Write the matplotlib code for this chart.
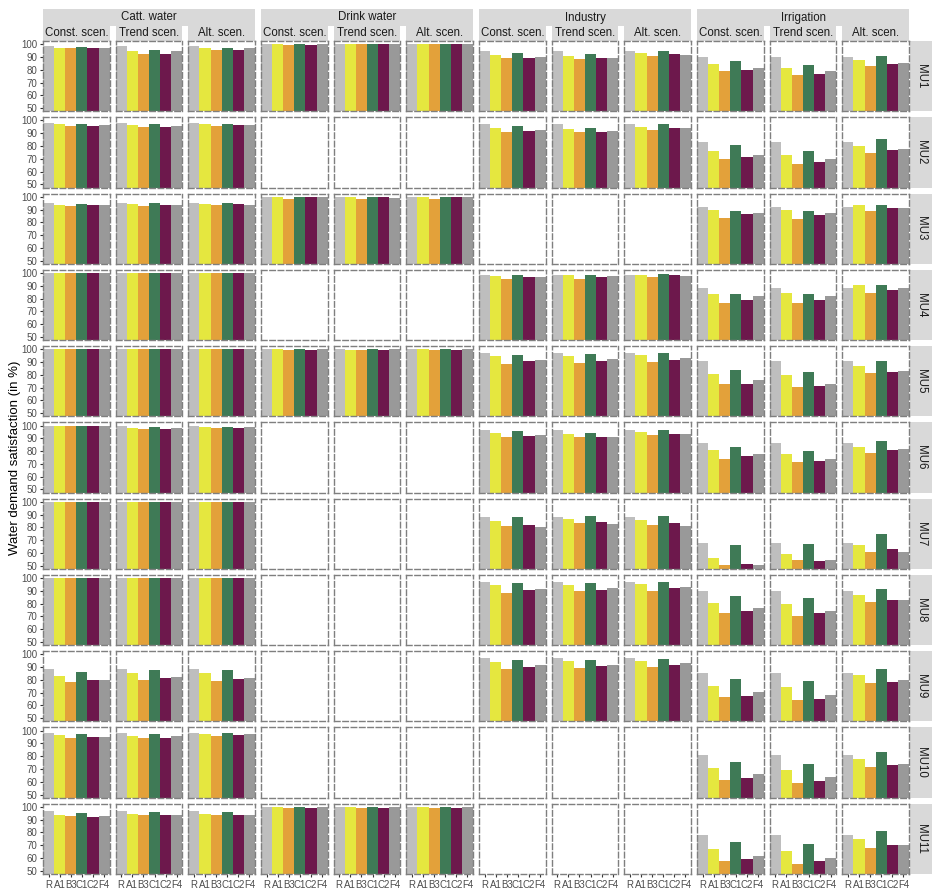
import numpy as np
import matplotlib.pyplot as plt
from matplotlib.patches import Rectangle

plt.rcParams['font.family'] = ['Liberation Sans', 'DejaVu Sans']

# categories
bars = ['R', 'A1', 'B3', 'C1', 'C2', 'F4']
bar_colors = ['#BEBEBE', '#E5E73F', '#E3A13A', '#3F7A56', '#6D184C', '#999999']
groups = ['Catt. water', 'Drink water', 'Industry', 'Irrigation']
scens = ['Const. scen.', 'Trend scen.', 'Alt. scen.']
units = ['MU%d' % i for i in range(1, 12)]
full = [100, 100, 100, 100, 100, 100]

# values (in %), one row per MU, None = no demand
catt_const = [[98.4, 96.9, 96.9, 97.6, 96.9, 96.9], [98.4, 97.6, 96.0, 97.6, 96.0, 96.8],
              [95.3, 93.8, 93.0, 94.6, 93.8, 93.8], full, full,
              [100, 99.3, 99.3, 99.3, 99.3, 100], full, full,
              [88.3, 82.8, 78.1, 85.9, 79.7, 79.7], [98.4, 96.8, 94.4, 97.6, 95.2, 95.2],
              [96.9, 93.8, 93.0, 95.3, 92.2, 93.0]]
catt_trend = [[98.4, 94.5, 92.2, 95.3, 92.2, 94.5], [98.4, 96.8, 95.2, 97.6, 95.2, 96.0],
              [95.3, 94.6, 93.0, 95.3, 93.8, 93.8], full, full,
              [100, 98.4, 97.6, 99.2, 97.6, 98.4], full, full,
              [88.3, 85.2, 79.7, 87.5, 81.3, 82.0], [98.4, 96.0, 94.4, 97.6, 94.4, 96.0],
              [96.9, 94.6, 93.8, 96.1, 93.8, 93.8]]
catt_alt = [[98.4, 96.9, 95.3, 96.9, 95.3, 96.9], [98.4, 97.6, 96.0, 97.6, 96.8, 96.8],
            [95.3, 94.6, 93.8, 95.3, 94.6, 93.8], full, full,
            [100, 99.2, 98.4, 99.2, 98.4, 99.2], full, full,
            [88.3, 85.2, 78.9, 87.5, 80.5, 81.3], [98.4, 97.6, 96.0, 98.4, 96.8, 97.6],
            [96.9, 94.6, 93.8, 96.1, 93.8, 93.8]]

drink_const = [[100, 100, 99.2, 100, 99.2, 100], None, [100, 100, 98.4, 100, 100, 100], None,
               [100, 100, 99.2, 100, 99.2, 100], None, None, None, None, None,
               [100, 100, 99.2, 100, 99.2, 100]]
drink_trend = [full, None, [100, 100, 98.4, 100, 100, 99.2], None,
               [100, 99.2, 99.2, 100, 99.2, 100], None, None, None, None, None,
               [100, 100, 99.2, 100, 99.2, 100]]
drink_alt = [full, None, [100, 100, 98.4, 100, 100, 100], None,
             [100, 100, 99.2, 100, 99.2, 100], None, None, None, None, None,
             [100, 100, 99.2, 100, 99.2, 100]]

ind_const = [[94.5, 91.4, 89.0, 93.0, 89.0, 89.8], [97.6, 94.4, 91.3, 96.0, 92.0, 92.9], None,
             [98.4, 97.6, 95.3, 98.4, 96.8, 96.8], [96.9, 94.5, 88.3, 95.3, 90.6, 91.4],
             [96.5, 94.2, 91.0, 95.7, 91.8, 92.6], [88.3, 85.2, 81.3, 88.3, 82.1, 80.6],
             [96.8, 94.5, 88.2, 96.0, 90.5, 91.3], [96.9, 93.8, 88.3, 95.3, 89.8, 91.4],
             None, None]
ind_trend = [[94.5, 90.6, 88.3, 92.2, 89.0, 89.0], [97.6, 93.7, 91.3, 94.4, 91.3, 92.0], None,
             [98.4, 98.4, 95.3, 98.4, 96.8, 97.6], [96.9, 94.5, 89.1, 96.1, 90.6, 92.2],
             [96.5, 93.3, 91.0, 94.2, 91.0, 91.0], [88.3, 86.8, 83.7, 89.1, 84.5, 82.9],
             [96.8, 94.5, 89.7, 96.0, 90.5, 92.1], [96.9, 94.5, 89.1, 95.3, 90.6, 91.4],
             None, None]
ind_alt = [[94.5, 93.0, 90.6, 94.5, 92.2, 91.4], [97.6, 95.2, 92.9, 97.6, 94.4, 94.4], None,
           [98.4, 98.4, 96.8, 99.2, 98.4, 97.6], [96.9, 95.3, 89.8, 96.9, 91.4, 93.0],
           [96.5, 95.0, 92.6, 96.5, 93.3, 93.3], [88.3, 86.0, 82.1, 89.1, 83.7, 81.3],
           [96.8, 95.3, 89.7, 96.8, 92.1, 92.9], [96.9, 94.5, 89.8, 96.1, 91.4, 93.0],
           None, None]

irr_const = [[89.8, 84.3, 78.9, 86.7, 79.6, 81.2], [83.3, 76.2, 69.8, 81.0, 71.4, 73.0],
             [92.2, 89.9, 83.7, 89.1, 86.8, 87.6], [88.2, 83.4, 76.3, 83.4, 78.7, 81.8],
             [90.6, 80.5, 72.7, 83.6, 72.7, 75.8], [86.1, 80.5, 74.2, 83.6, 75.8, 77.4],
             [67.8, 56.2, 50.8, 66.3, 51.6, 50.8], [89.7, 80.3, 72.4, 85.8, 73.9, 76.3],
             [85.2, 75.0, 66.4, 80.5, 67.2, 70.3], [81.0, 70.6, 61.1, 75.4, 62.7, 65.9],
             [78.2, 67.4, 58.0, 72.8, 59.6, 61.9]]
irr_trend = [[89.8, 81.2, 75.7, 83.6, 76.5, 78.9], [83.3, 73.0, 65.9, 76.2, 67.5, 69.8],
             [92.2, 89.9, 82.9, 89.1, 86.0, 87.6], [88.2, 84.2, 76.3, 83.4, 78.7, 81.8],
             [90.6, 79.7, 70.3, 82.0, 71.1, 72.7], [86.1, 77.4, 71.1, 79.7, 72.6, 74.2],
             [67.8, 59.3, 54.7, 67.0, 53.9, 54.7], [89.7, 79.5, 70.0, 84.2, 72.4, 73.9],
             [85.2, 74.2, 64.1, 78.9, 64.8, 68.0], [81.0, 69.0, 58.7, 73.8, 60.3, 63.5],
             [78.2, 65.8, 55.7, 71.2, 58.0, 60.4]]
irr_alt = [[89.8, 87.5, 82.8, 90.6, 84.3, 85.1], [83.3, 80.2, 74.6, 85.7, 77.0, 77.8],
           [92.2, 93.8, 89.1, 93.8, 91.5, 91.5], [88.2, 90.5, 84.2, 90.5, 86.6, 88.2],
           [90.6, 86.7, 81.3, 90.6, 82.0, 82.8], [86.1, 83.6, 78.9, 87.6, 80.5, 81.3],
           [67.8, 66.3, 60.9, 74.8, 63.2, 60.9], [89.7, 86.6, 81.0, 91.3, 82.6, 82.6],
           [85.2, 83.6, 77.3, 88.3, 78.1, 79.7], [81.0, 77.8, 71.4, 83.3, 73.0, 73.8],
           [78.2, 75.1, 68.1, 81.3, 70.5, 70.5]]

columns = [catt_const, catt_trend, catt_alt, drink_const, drink_trend, drink_alt,
           ind_const, ind_trend, ind_alt, irr_const, irr_trend, irr_alt]

W, H = 935, 892
fig = plt.figure(figsize=(W / 100, H / 100), dpi=100)

x0, x1, y0, y1, gap = 43, 909, 41, 874, 6
pw = (x1 - x0 - 11 * gap) / 12
ph = (y1 - y0 - 10 * gap) / 11
strip_col = '#D9D9D9'

def box(x, y, w, h):
    # pixel coords (top-left origin) -> figure fraction rect
    return [x / W, 1 - (y + h) / H, w / W, h / H]

def rect(x, y, w, h):
    r = box(x, y, w, h)
    fig.add_artist(Rectangle((r[0], r[1]), r[2], r[3], transform=fig.transFigure,
                             facecolor=strip_col, edgecolor='none', zorder=0))

xs = np.arange(len(bars))
for c, col in enumerate(columns):
    left = x0 + c * (pw + gap)
    for r in range(11):
        top = y0 + r * (ph + gap)
        ax = fig.add_axes(box(left, top, pw, ph))
        vals = col[r]
        if vals is not None:
            ax.bar(xs, vals, width=1.0, color=bar_colors)
        ax.set_xlim(-0.5, 5.5)
        ax.set_ylim(47.5, 102.5)
        ax.set_yticks([50, 60, 70, 80, 90, 100])
        ax.set_xticks(xs)
        for sp in ax.spines.values():
            sp.set_linestyle((0, (4, 2)))
            sp.set_color('#7F7F7F')
            sp.set_linewidth(1.0)
        ax.tick_params(axis='both', length=2.5, width=0.8, color='#333333',
                       labelsize=7, labelcolor='#4D4D4D', pad=1.5)
        if c == 0:
            ax.set_yticklabels([str(v) for v in [50, 60, 70, 80, 90, 100]])
        else:
            ax.tick_params(axis='y', left=False, labelleft=False)
        if r == 10:
            ax.set_xticklabels(bars)
        else:
            ax.tick_params(axis='x', bottom=False, labelbottom=False)
        # column strip
        if r == 0:
            rect(left, 26, pw, 15)
            fig.text((left + pw / 2) / W, 1 - 33.5 / H, scens[c % 3], ha='center', va='center',
                     fontsize=8.3, color='#1A1A1A')
        # row strip
        if c == 11:
            rect(910, top, 22, ph)
            fig.text(921 / W, 1 - (top + ph / 2) / H, units[r], rotation=270, ha='center',
                     va='center', fontsize=8.3, color='#1A1A1A')

for g, name in enumerate(groups):
    gl = x0 + 3 * g * (pw + gap)
    gw = 3 * pw + 2 * gap
    rect(gl, 9, gw, 17)
    fig.text((gl + gw / 2) / W, 1 - 17.5 / H, name, ha='center', va='center',
             fontsize=8.3, color='#1A1A1A')

fig.text(15 / W, 1 - 458 / H, 'Water demand satisfaction (in %)', rotation=90,
         ha='center', va='center', fontsize=9.5)

fig.savefig('out.png', dpi=100)
